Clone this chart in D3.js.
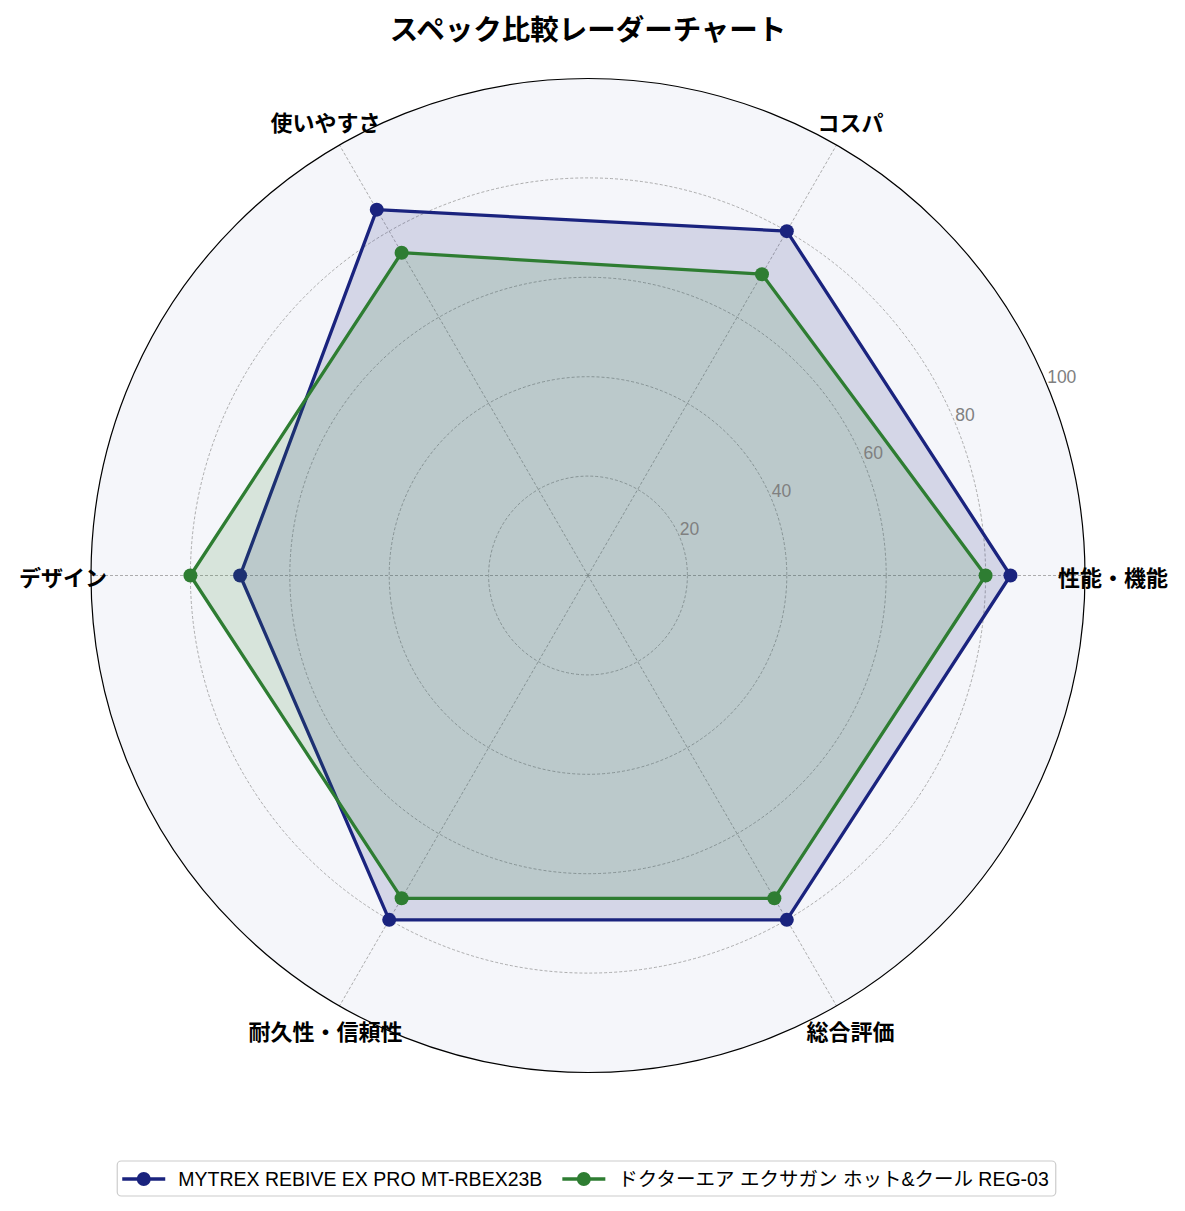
<!DOCTYPE html>
<html>
<head>
<meta charset="utf-8">
<script src="https://cdn.jsdelivr.net/npm/d3@7"></script>
<style>
  body { margin: 0; background: #fff; }
  svg { display: block; }
</style>
</head>
<body>
<div id="chart"></div>
<script>
// data
const categories = ['性能・機能', 'コスパ', '使いやすさ', 'デザイン', '耐久性・信頼性', '総合評価'];
const seriesNames = ['MYTREX REBIVE EX PRO MT-RBEX23B', 'ドクターエア エクサガン ホット&クール REG-03'];
const mytrexValues = [85, 80, 85, 70, 80, 80];
const drairValues = [80, 70, 75, 80, 75, 75];
const gridTicks = [20, 40, 60, 80, 100];
const colors = ['#1a237e', '#2e7d32'];

const width = 1185;
const height = 1211;
const cx = 588, cy = 575.5, R = 497;
const jpFont = '"Noto Sans CJK JP", "Liberation Sans", sans-serif';
const latinFont = '"Liberation Sans", "Noto Sans CJK JP", sans-serif';

const svg = d3.select('#chart').append('svg')
    .attr('width', width).attr('height', height);

const r = d3.scaleLinear().domain([0, 100]).range([0, R]);
// angle in radians, counter-clockwise from the right, first category at 0
const angle = d3.scalePoint().domain(categories).range([0, 2 * Math.PI * (categories.length - 1) / categories.length]);

const px = (a, v) => cx + r(v) * Math.cos(a);
const py = (a, v) => cy - r(v) * Math.sin(a);

// title
svg.append('text')
    .attr('x', cx).attr('y', 40)
    .attr('text-anchor', 'middle')
    .style('font-family', jpFont)
    .style('font-size', '28.5px')
    .style('font-weight', 'bold')
    .text('スペック比較レーダーチャート');

const g = svg.append('g');

// background
g.append('circle').attr('cx', cx).attr('cy', cy).attr('r', R).attr('fill', '#f5f6fa');

// grid circles
g.selectAll('circle.grid').data(gridTicks.filter(d => d < 100)).enter().append('circle')
    .attr('class', 'grid')
    .attr('cx', cx).attr('cy', cy).attr('r', d => r(d))
    .attr('fill', 'none').attr('stroke', '#999').attr('stroke-width', 0.8)
    .attr('stroke-dasharray', '3,2');

// spokes
g.selectAll('line.spoke').data(categories).enter().append('line')
    .attr('class', 'spoke')
    .attr('x1', cx).attr('y1', cy)
    .attr('x2', d => px(angle(d), 100)).attr('y2', d => py(angle(d), 100))
    .attr('stroke', '#999').attr('stroke-width', 0.8)
    .attr('stroke-dasharray', '3,2');

// outer spine
g.append('circle').attr('cx', cx).attr('cy', cy).attr('r', R)
    .attr('fill', 'none').attr('stroke', '#000').attr('stroke-width', 1.2);

// series
const series = [mytrexValues, drairValues];
const line = d3.lineRadial()
    .angle((d, i) => Math.PI / 2 - angle(categories[i]))
    .radius(d => r(d))
    .curve(d3.curveLinearClosed);

series.forEach((vals, si) => {
    const sg = g.append('g').attr('transform', `translate(${cx},${cy})`);
    sg.append('path').datum(vals)
        .attr('d', line)
        .attr('fill', colors[si]).attr('fill-opacity', 0.15)
        .attr('stroke', colors[si]).attr('stroke-width', 3.3)
        .attr('stroke-linejoin', 'round');
    sg.selectAll('circle').data(vals).enter().append('circle')
        .attr('cx', (d, i) => r(d) * Math.cos(angle(categories[i])))
        .attr('cy', (d, i) => -r(d) * Math.sin(angle(categories[i])))
        .attr('r', 7)
        .attr('fill', colors[si]);
});

// radial tick labels at 22.5 degrees
const tickAngle = 22.5 * Math.PI / 180;
g.selectAll('text.rtick').data(gridTicks).enter().append('text')
    .attr('class', 'rtick')
    .attr('x', d => px(tickAngle, d))
    .attr('y', d => py(tickAngle, d) - 2)
    .style('font-family', latinFont)
    .style('font-size', '17.5px')
    .attr('fill', '#808080')
    .text(d => d);

// category labels
g.selectAll('text.cat').data(categories).enter().append('text')
    .attr('class', 'cat')
    .attr('x', d => cx + 525 * Math.cos(angle(d)))
    .attr('y', d => cy - 525 * Math.sin(angle(d)))
    .attr('text-anchor', 'middle')
    .attr('dominant-baseline', 'central')
    .style('font-family', jpFont)
    .style('font-size', '22px')
    .style('font-weight', 'bold')
    .text(d => d);

// legend
const leg = svg.append('g');
const legBox = leg.append('rect')
    .attr('y', 1161).attr('height', 35).attr('rx', 4)
    .attr('fill', '#fff').attr('stroke', '#ccc').attr('stroke-width', 1.2);
const items = leg.append('g');
let lx = 0;
const ly = 1179;
seriesNames.forEach((name, i) => {
    items.append('line').attr('x1', lx).attr('x2', lx + 43).attr('y1', ly).attr('y2', ly)
        .attr('stroke', colors[i]).attr('stroke-width', 3.3);
    items.append('circle').attr('cx', lx + 21.5).attr('cy', ly).attr('r', 7).attr('fill', colors[i]);
    const t = items.append('text')
        .attr('x', lx + 56).attr('y', ly)
        .attr('dominant-baseline', 'central')
        .style('font-family', latinFont)
        .style('font-size', '19.5px')
        .text(name);
    lx = lx + 56 + t.node().getComputedTextLength() + 20;
});
const contentW = lx - 20;
const legW = contentW + 12;
const legX = 586.5 - legW / 2;
legBox.attr('x', legX).attr('width', legW);
items.attr('transform', `translate(${legX + 5},0)`);
</script>
</body>
</html>
